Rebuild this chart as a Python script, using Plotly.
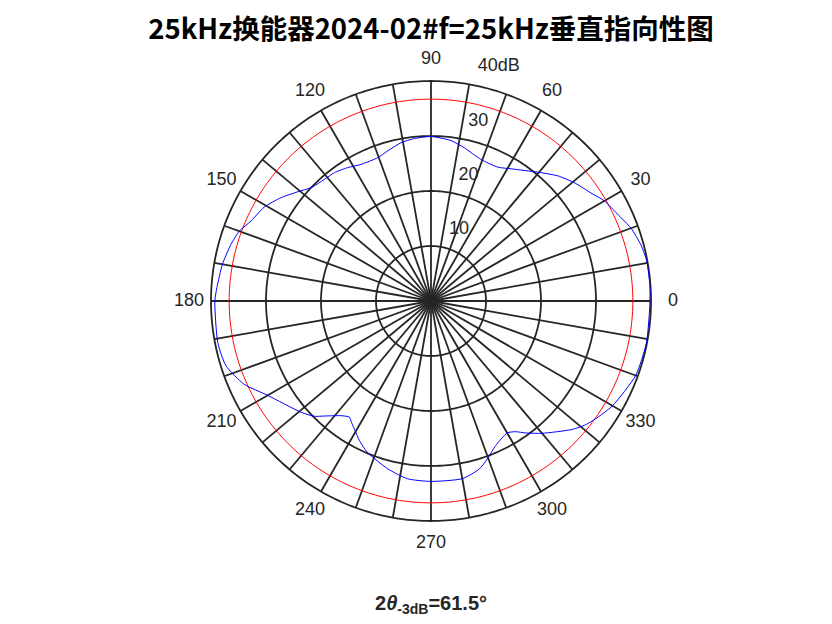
import plotly.graph_objects as go

# measured directivity (angle in degrees, level in dB)
angles = [0, 3.5, 10.5, 15, 20, 25, 30, 34, 39.5, 44.6, 50.4, 58.8, 63.5, 70.6, 77.7, 82.9,
          90, 95.8, 100.7, 106.1, 110.4, 117.1, 122, 127, 131.2, 136.6, 140.6, 145.4, 150.6,
          156, 160, 164.2, 170, 176.4, 180, 191, 197.5, 204, 210, 220.6, 224.7, 227.2, 231.9,
          234.9, 236.8, 239.6, 242.8, 247, 255.5, 262.5, 270, 280, 286, 289.6, 294.1, 300,
          302.9, 305.6, 310, 317.7, 321.3, 324.4, 330, 340, 349, 358.8, 360]
levels = [39.8, 39.9, 39.9, 39.5, 38.7, 37.4, 36.4, 35.1, 33.8, 32.4, 30.4, 28.1, 27.2, 27.3,
          28.5, 29.4, 29.9, 29.7, 29.3, 28.4, 27.8, 27.9, 28.6, 29.2, 29.4, 30.0, 31.3, 33.1,
          34.8, 35.8, 37.1, 37.8, 38.5, 39.0, 39.3, 39.5, 39.1, 37.2, 34.3, 31.1, 29.8, 28.5,
          26.5, 25.8, 26.4, 27.3, 28.5, 29.8, 31.5, 32.6, 32.8, 32.8, 31.8, 30.5, 28.8, 27.7,
          28.3, 29.5, 31.4, 34.7, 36.0, 36.8, 38.1, 39.6, 39.9, 39.8, 39.8]

half_power = 36.7  # -3dB level
ring_vals = [10, 20, 30, 40]
ring_text = ['10', '20', '30', '40dB']
spoke_vals = list(range(0, 360, 10))
label_vals = list(range(0, 360, 30))
label_text = [str(a) for a in label_vals]

title_text = '25kHz换能器2024-02#f=25kHz垂直指向性图'
beamwidth = 61.5

W, H = 832, 624
# page body has ~7px margin, so place things 7px up/left
cx, cy = 423, 293
r_max = 40
r_label = 44  # angle labels sit at 1.1 x outer ring, like matlab
R = 220 * r_label / r_max
font = 'Liberation Sans, Arial, sans-serif'
dark = '#262626'


def plot():
    fig = go.Figure()
    circle_theta = list(range(0, 361))

    # grid: rings and spokes
    for rv in ring_vals:
        fig.add_trace(go.Scatterpolar(r=[rv] * len(circle_theta), theta=circle_theta, mode='lines',
                                      line=dict(color=dark, width=1.8),
                                      hoverinfo='skip', showlegend=False))
    spoke_r, spoke_t = [], []
    for a in spoke_vals:
        spoke_r += [0, r_max, None]
        spoke_t += [a, a, None]
    fig.add_trace(go.Scatterpolar(r=spoke_r, theta=spoke_t, mode='lines',
                                  line=dict(color=dark, width=1.8),
                                  hoverinfo='skip', showlegend=False))

    fig.add_trace(go.Scatterpolar(r=[half_power] * len(circle_theta), theta=circle_theta,
                                  mode='lines', line=dict(color='#ff0000', width=1),
                                  hoverinfo='skip', showlegend=False))
    fig.add_trace(go.Scatterpolar(r=levels, theta=angles, mode='lines',
                                  line=dict(color='#0000ff', width=1, shape='spline', smoothing=0.6),
                                  showlegend=False))

    # labels
    fig.add_trace(go.Scatterpolar(r=ring_vals, theta=[80] * len(ring_vals), mode='markers+text',
                                  marker=dict(size=12, color='rgba(0,0,0,0)'),
                                  text=ring_text, textposition='top right',
                                  textfont=dict(family=font, size=18, color=dark),
                                  hoverinfo='skip', showlegend=False))
    fig.add_trace(go.Scatterpolar(r=[r_label] * len(label_vals), theta=label_vals, mode='text',
                                  text=label_text, textposition='middle center',
                                  textfont=dict(family=font, size=18, color=dark),
                                  cliponaxis=False, hoverinfo='skip', showlegend=False))

    fig.update_layout(
        width=W, height=H,
        margin=dict(l=0, r=0, t=0, b=0),
        paper_bgcolor='white',
        title=dict(text='<b>' + title_text + '</b>', x=cx / W, xanchor='center',
                   y=1 - 21 / H, yanchor='middle',
                   font=dict(family='Noto Sans CJK SC', size=27.5, color='#000000')),
        polar=dict(
            domain=dict(x=[(cx - R) / W, (cx + R) / W], y=[(H - cy - R) / H, (H - cy + R) / H]),
            bgcolor='rgba(0,0,0,0)',
            radialaxis=dict(range=[0, r_label], visible=False, showgrid=False),
            angularaxis=dict(direction='counterclockwise', rotation=0, showgrid=False,
                             showline=False, showticklabels=False, ticks=''),
        ),
        annotations=[dict(text='<b>2<i>θ</i><sub>-3dB</sub>=%.1f°</b>' % beamwidth,
                          x=cx / W, y=1 - 596 / H, xref='paper', yref='paper',
                          xanchor='center', yanchor='middle', showarrow=False,
                          font=dict(family=font, size=20, color=dark))],
    )
    return fig


if __name__ == '__main__':
    fig = plot()
    fig.write_html('out.html')
